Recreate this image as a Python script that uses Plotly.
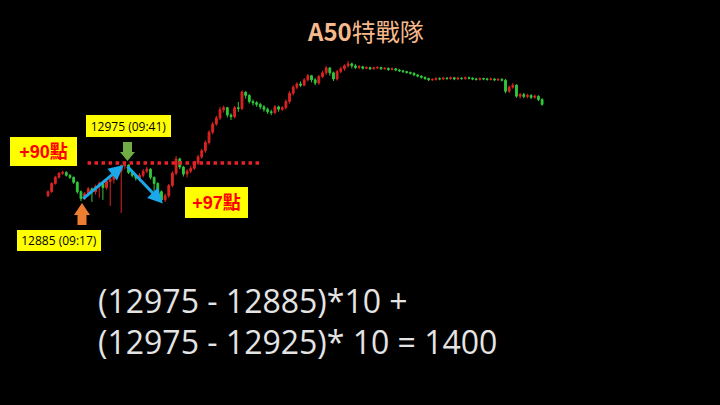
import plotly.graph_objects as go

# ---- data (2-minute bars, index 0 = 09:00) ----
bar_index = list(range(136))
first_open = 12895
closes = [12905, 12925, 12940, 12950, 12952, 12945, 12940, 12928, 12905, 12888,
          12900, 12912, 12905, 12918, 12925, 12915, 12930, 12935, 12945, 12955,
          12968, 12970, 12952, 12945, 12938, 12945, 12955, 12960, 12940, 12925,
          12905, 12885, 12895, 12920, 12950, 12985, 12965, 12948, 12955, 12962,
          12975, 12990, 13005, 13025, 13050, 13070, 13085, 13105, 13110, 13092,
          13088, 13110, 13108, 13148, 13140, 13125, 13122, 13118, 13112, 13106,
          13100, 13098, 13112, 13106, 13110, 13125, 13145, 13160, 13168, 13165,
          13178, 13188, 13178, 13170, 13186, 13195, 13207, 13195, 13180, 13198,
          13205, 13212, 13217, 13212, 13208, 13210, 13206, 13208, 13205, 13207,
          13208, 13205, 13206, 13203, 13205, 13202, 13200, 13198, 13196, 13194,
          13190, 13187, 13184, 13181, 13178, 13179, 13181, 13180, 13182, 13181,
          13183, 13180, 13182, 13181, 13183, 13182, 13180, 13179, 13181, 13180,
          13179, 13180, 13178, 13179, 13177, 13150, 13160, 13165, 13138, 13142,
          13137, 13140, 13135, 13138, 13130, 13118]
highs = [12908, 12928, 12944, 12953, 12956, 12955, 12948, 12942, 12930, 12908,
         12904, 12916, 12915, 12922, 12930, 12928, 12935, 12945, 12950, 12960,
         12972, 12975, 12972, 12956, 12948, 12950, 12960, 12966, 12962, 12942,
         12928, 12908, 12900, 12924, 12955, 12992, 12988, 12968, 12960, 12968,
         12980, 12995, 13010, 13030, 13055, 13075, 13090, 13112, 13115, 13112,
         13096, 13114, 13124, 13152, 13150, 13143, 13130, 13126, 13122, 13116,
         13110, 13105, 13116, 13115, 13114, 13130, 13150, 13165, 13172, 13174,
         13182, 13192, 13190, 13182, 13190, 13200, 13212, 13209, 13198, 13202,
         13210, 13216, 13224, 13220, 13216, 13214, 13212, 13211, 13210, 13210,
         13211, 13210, 13209, 13208, 13208, 13207, 13204, 13202, 13200, 13198,
         13196, 13192, 13189, 13186, 13183, 13182, 13184, 13184, 13185, 13185,
         13186, 13185, 13185, 13184, 13186, 13186, 13184, 13183, 13184, 13183,
         13183, 13183, 13182, 13182, 13182, 13180, 13164, 13170, 13167, 13146,
         13146, 13144, 13143, 13142, 13140, 13133]
lows = [12892, 12902, 12922, 12937, 12946, 12942, 12936, 12924, 12900, 12882,
        12885, 12896, 12880, 12898, 12890, 12885, 12910, 12870, 12925, 12940,
        12853, 12960, 12948, 12940, 12932, 12930, 12940, 12950, 12935, 12905,
        12898, 12878, 12880, 12890, 12916, 12945, 12960, 12942, 12940, 12950,
        12958, 12970, 12985, 13000, 13020, 13045, 13066, 13080, 13098, 13086,
        13080, 13084, 13100, 13104, 13132, 13120, 13115, 13112, 13106, 13100,
        13095, 13092, 13094, 13100, 13102, 13106, 13120, 13140, 13155, 13160,
        13162, 13174, 13172, 13165, 13166, 13182, 13190, 13188, 13175, 13176,
        13194, 13200, 13208, 13206, 13204, 13204, 13203, 13204, 13202, 13203,
        13204, 13202, 13203, 13200, 13201, 13199, 13197, 13195, 13193, 13191,
        13187, 13184, 13181, 13178, 13175, 13175, 13176, 13177, 13177, 13178,
        13178, 13177, 13177, 13178, 13178, 13179, 13177, 13176, 13176, 13177,
        13176, 13176, 13175, 13175, 13174, 13145, 13146, 13156, 13134, 13132,
        13133, 13133, 13131, 13132, 13126, 13115]
opens = [first_open] + closes[:-1]

title_latin = "A50"
title_cjk = "特戰隊"
entry_price, entry_time = 12885, "09:17"
peak_price, peak_time = 12975, "09:41"
low_price = 12878
gain1_label = "+90點"
gain2_label = "+97點"
formula_line1 = "(12975 - 12885)*10 +"
formula_line2 = "(12975 - 12925)* 10 = 1400"

entry_bar, peak_bar, low_bar = 9, 21, 31

W, H = 720, 405


def px(x, y):
    return x / W, 1 - y / H


fig = go.Figure()
fig.add_trace(go.Candlestick(
    x=bar_index, open=opens, high=highs, low=lows, close=closes,
    increasing=dict(line=dict(color="#DC2424", width=1), fillcolor="#DC2424"),
    decreasing=dict(line=dict(color="#30C83C", width=1), fillcolor="#30C83C"),
    whiskerwidth=0, showlegend=False, hoverinfo="skip",
))

shapes = []
# dotted resistance line at the peak price
shapes.append(dict(type="line", xref="x", yref="y", x0=10.8, x1=58, y0=peak_price, y1=peak_price,
                   line=dict(color="#E8202A", width=3.5, dash="3.5px,3.5px")))


def block_arrow(cx, tip_y, direction, color, shaft_w=9, head_w=16, head_h=12, shaft_h=10):
    s = 1 if direction == "up" else -1
    base = tip_y + s * head_h
    end = base + s * shaft_h
    pts = [(cx, tip_y), (cx + head_w / 2, base), (cx + shaft_w / 2, base), (cx + shaft_w / 2, end),
           (cx - shaft_w / 2, end), (cx - shaft_w / 2, base), (cx - head_w / 2, base)]
    d = "M " + " L ".join(f"{px(a, b)[0]:.5f},{px(a, b)[1]:.5f}" for a, b in pts) + " Z"
    return dict(type="path", xref="paper", yref="paper", path=d, fillcolor=color, line=dict(width=0))


shapes.append(block_arrow(82, 203, "up", "#ED7D31"))
shapes.append(block_arrow(127.5, 161, "down", "#70AD47", shaft_w=9, head_w=15, head_h=9, shaft_h=10))

annotations = []
# blue move arrows (data coords)
annotations.append(dict(x=peak_bar - 0.3, y=peak_price - 5, ax=entry_bar + 0.2, ay=entry_price,
                        xref="x", yref="y", axref="x", ayref="y", text="", showarrow=True,
                        arrowhead=2, arrowsize=1, arrowwidth=3, arrowcolor="#1BA8E8", standoff=0))
annotations.append(dict(x=low_bar + 0.4, y=low_price - 2, ax=peak_bar + 0.3, ay=peak_price - 5,
                        xref="x", yref="y", axref="x", ayref="y", text="", showarrow=True,
                        arrowhead=2, arrowsize=1, arrowwidth=3, arrowcolor="#1BA8E8", standoff=0))


def label(x0, y0, w, h, text, size, color, bold=False, family="Open Sans, Noto Sans CJK TC"):
    xp, yp = px(x0, y0)
    t = f"<b>{text}</b>" if bold else text
    return dict(x=xp, y=yp, xref="paper", yref="paper", xanchor="left", yanchor="top",
                width=w, height=h, text=t, showarrow=False, bgcolor="#FFFF00",
                borderpad=0, borderwidth=0, align="center", valign="middle",
                font=dict(size=size, color=color, family=family))


bold_family = "Liberation Sans, Noto Sans CJK TC"
annotations.append(label(10, 137, 67, 29, gain1_label, 18, "#FF0000", True, bold_family))
annotations.append(label(185, 187, 63, 31, gain2_label, 18, "#FF0000", True, bold_family))
annotations.append(label(86, 115, 85, 22, f"{peak_price} ({peak_time})", 12, "#000000"))
annotations.append(label(17, 230, 84, 21, f"{entry_price} ({entry_time})", 12, "#000000"))

# title
tx, ty = px(365.5, 30)
annotations.append(dict(x=tx, y=ty, xref="paper", yref="paper", xanchor="center", yanchor="middle",
                        text=f"<b>{title_latin}</b>{title_cjk}", showarrow=False,
                        font=dict(size=24, color="#F6B98C", family="Noto Sans CJK TC")))

# formula lines
for line_text, yy in ((formula_line1, 300), (formula_line2, 341)):
    fx, fy = px(96, yy)
    annotations.append(dict(x=fx, y=fy, xref="paper", yref="paper", xanchor="left", yanchor="middle",
                            text=line_text, showarrow=False,
                            font=dict(size=32, color="#E4E4E4", family="Open Sans")))

# y mapping: 12975 at 163px, 2.44 points per px
pts_per_px = 2.44
y_top = peak_price + 163 * pts_per_px
y_bot = peak_price - (H - 163) * pts_per_px
# x mapping: bar 0 at 48px, 3.66 px per bar
px_per_bar = 3.66
x_left = -48 / px_per_bar
x_right = (W - 48) / px_per_bar

fig.update_layout(
    width=W, height=H, margin=dict(l=0, r=0, t=0, b=0),
    paper_bgcolor="#000000", plot_bgcolor="#000000",
    xaxis=dict(range=[x_left, x_right], visible=False, rangeslider=dict(visible=False), fixedrange=True),
    yaxis=dict(range=[y_bot, y_top], visible=False, fixedrange=True),
    shapes=shapes, annotations=annotations, showlegend=False,
)

fig.write_html("out.html", config={"displayModeBar": False},
               post_script="document.body.style.margin='0';document.body.style.padding='0';"
                           "document.body.style.background='#000';"
                           "document.documentElement.style.background='#000';"
                           "document.body.style.overflow='hidden';")
